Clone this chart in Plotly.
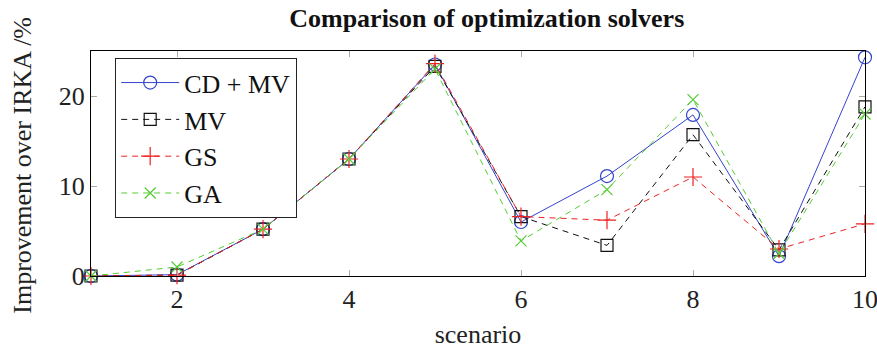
import plotly.graph_objects as go

scenarios = [1, 2, 3, 4, 5, 6, 7, 8, 9, 10]
cd_mv = [0.0, 0.15, 5.2, 13.0, 23.5, 6.0, 11.1, 17.9, 2.2, 24.3]
mv = [0.0, 0.1, 5.2, 13.0, 23.3, 6.6, 3.4, 15.7, 2.9, 18.8]
gs = [0.0, 0.1, 5.2, 13.0, 23.6, 6.6, 6.2, 11.0, 3.0, 5.8]
ga = [0.0, 1.0, 5.2, 13.0, 23.0, 3.9, 9.6, 19.6, 2.5, 18.0]

FONT = "Liberation Serif"

series = [
    ("CD + MV", cd_mv, "#3344cc", "solid", "circle-open", 13),
    ("MV", mv, "#111111", "6px,5px", "square-open", 12),
    ("GS", gs, "#ee2222", "6px,5px", "cross-thin-open", 13),
    ("GA", ga, "#55cc33", "6px,5px", "x-thin-open", 11),
]

fig = go.Figure()
for name, vals, color, dash, symbol, size in series:
    fig.add_trace(go.Scatter(
        x=scenarios, y=vals, name=name, mode="lines+markers",
        line=dict(color=color, width=1, dash=dash),
        marker=dict(symbol=symbol, size=size, color=color,
                    line=dict(color=color, width=1.2)),
        cliponaxis=False,
    ))

axis_common = dict(
    showgrid=False, zeroline=False, showline=True, linecolor="black",
    linewidth=1.2, mirror="ticks", ticks="inside", ticklen=6,
    tickcolor="#aaaaaa", tickwidth=1, automargin=False,
    ticklabeloverflow="allow", tickfont=dict(size=26),
)

fig.update_layout(
    width=877, height=349,
    margin=dict(l=91, r=12, t=51, b=73),
    paper_bgcolor="white", plot_bgcolor="white",
    font=dict(family=FONT, color="#222222", size=26),
    title=dict(text="<b>Comparison of optimization solvers</b>",
               x=0.555, xanchor="center", y=0.95, yanchor="middle",
               font=dict(size=26, color="#111111")),
    xaxis=dict(range=[1, 10], tickvals=[2, 4, 6, 8, 10],
               title=dict(text="scenario", standoff=12, font=dict(size=26)),
               **axis_common),
    yaxis=dict(range=[0, 25], tickvals=[0, 10, 20], **axis_common),
    legend=dict(x=0.031, y=0.969, xanchor="left", yanchor="top",
                bordercolor="#222222", borderwidth=1.2, bgcolor="white",
                font=dict(size=26, color="#111111"), itemwidth=58,
                tracegroupgap=0),
    showlegend=True,
)

# y-axis title placed close to the page edge
fig.add_annotation(
    text="Improvement over IRKA /%", textangle=-90,
    xref="paper", yref="paper", x=(23 - 91) / 774, y=0.49,
    xanchor="center", yanchor="middle", showarrow=False,
    font=dict(family=FONT, size=26, color="#222222"),
)

fig.write_html("out.html")
